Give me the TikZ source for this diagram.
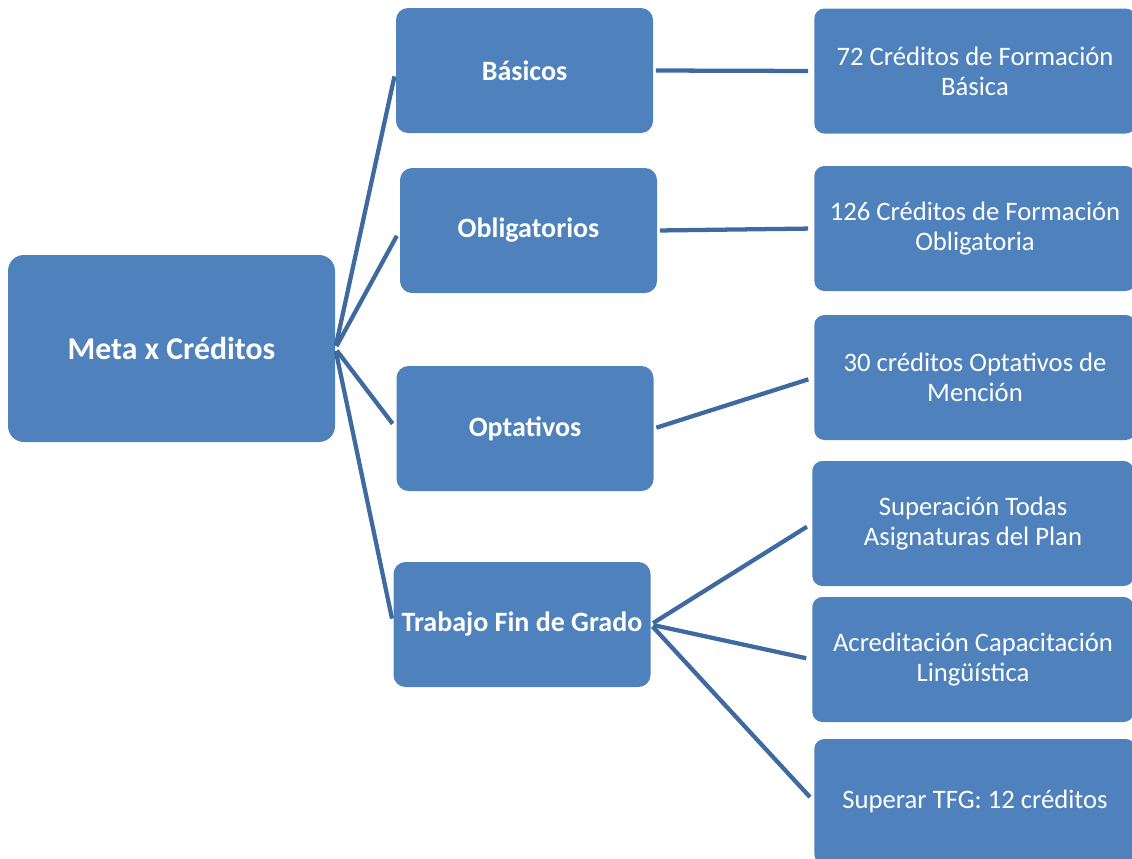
\documentclass[tikz,border=0pt]{standalone}
\usepackage{fontspec}
\setmainfont{Carlito}
\usepackage{xcolor}
\usepackage{tikz}
\usetikzlibrary{positioning, calc}

\definecolor{boxblue}{HTML}{4F81BD}
\definecolor{lineblue}{HTML}{3F6A9F}

\begin{document}
\begin{tikzpicture}[x=0.75pt, y=-0.75pt,
        box/.style={fill=boxblue, text=white, align=center, inner sep=0pt},
        midbox/.style={box, rounded corners=9pt, minimum width=192.75pt, minimum height=93.75pt, font=\fontsize{21}{25}\selectfont\bfseries},
        leafbox/.style={box, rounded corners=7.5pt, minimum width=241pt, minimum height=93.75pt, font=\fontsize{20}{22.5}\selectfont},
        link/.style={draw=lineblue, line width=3.2pt, shorten <=2pt, shorten >=4.5pt}]

        \useasboundingbox (0,0) rectangle (1132,858);
        \clip (0,0) rectangle (1132,858);

        % root
        \node[box, rounded corners=12pt, minimum width=245.25pt, minimum height=140.25pt,
              font=\fontsize{23.8}{28}\selectfont\bfseries] (meta) at (171.5,348.5) {Meta x Créditos};

        % second level
        \node[midbox] (basicos) at (524.5,70.5) {Básicos};
        \node[midbox] (oblig) at (528.5,230.5) {Obligatorios};
        \node[midbox] (optat) at (525,428.5) {Optativos};
        \node[midbox] (tfg) at (522,624.5) {Trabajo Fin de Grado};

        % leaves
        \node[leafbox] (basica) at (975,71) {72 Créditos de Formación\\Básica};
        \node[leafbox] (obligatoria) at (975,228.5) {126 Créditos de Formación\\Obligatoria};
        \node[leafbox] (mencion) at (975,377.5) {30 créditos Optativos de\\Mención};
        \node[leafbox] (superacion) at (973,523.5) {Superación Todas\\Asignaturas del Plan};
        \node[leafbox] (linguistica) at (973,659.5) {Acreditación Capacitación\\Lingüística};
        \node[leafbox] (superar) at (975,801.5) {Superar TFG: 12 créditos};

        % connectors
        \foreach \to in {basicos, oblig, optat, tfg}
            \draw[link] (meta.east) -- (\to.west);
        \draw[link] (basicos.east) -- (basica.west);
        \draw[link] (oblig.east) -- (obligatoria.west);
        \draw[link] (optat.east) -- (mencion.west);
        \foreach \to in {superacion, linguistica, superar}
            \draw[link] (tfg.east) -- (\to.west);
\end{tikzpicture}
\end{document}
